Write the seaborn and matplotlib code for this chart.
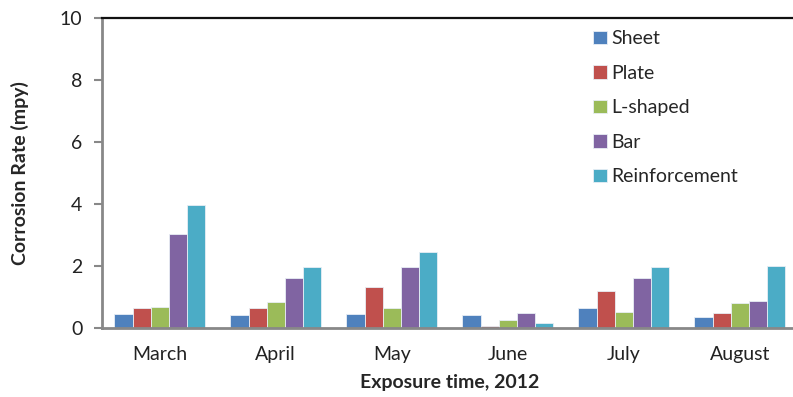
import numpy as np
import pandas as pd
import matplotlib
matplotlib.use("Agg")
import matplotlib.pyplot as plt
import seaborn as sns

months = ["March", "April", "May", "June", "July", "August"]
sheet = [0.43, 0.41, 0.43, 0.41, 0.64, 0.35]
plate = [0.64, 0.65, 1.31, 0.04, 1.19, 0.47]
l_shaped = [0.67, 0.84, 0.64, 0.25, 0.52, 0.80]
bar = [3.03, 1.59, 1.96, 0.46, 1.60, 0.87]
reinforcement = [3.95, 1.95, 2.44, 0.15, 1.96, 1.99]

series_names = ["Sheet", "Plate", "L-shaped", "Bar", "Reinforcement"]
series_values = [sheet, plate, l_shaped, bar, reinforcement]
colors = ["#4F81BD", "#C0504D", "#9BBB59", "#8064A2", "#4BACC6"]

df = pd.DataFrame(
    [(m, name, v) for name, vals in zip(series_names, series_values)
     for m, v in zip(months, vals)],
    columns=["month", "type", "rate"],
)

sns.set_theme(style="white")
plt.rcParams["font.family"] = ["Lato", "DejaVu Sans"]

FS = 14

fig = plt.figure(figsize=(7.93, 3.97), dpi=100)
ax = fig.add_axes([101.7 / 793, (397 - 327.7) / 397, 696 / 793, 309.7 / 397])

sns.barplot(data=df, x="month", y="rate", hue="type", order=months,
            hue_order=series_names, palette=colors, width=0.78,
            edgecolor="#e8eef5", linewidth=0.6, saturation=1, ax=ax)

ax.set_ylim(0, 10)
ax.set_xlim(-0.5, 5.5)
ax.set_yticks(np.arange(0, 11, 2))
ax.set_yticklabels([str(v) for v in range(0, 11, 2)], fontsize=FS, color="#222222")

# category labels centred, tick marks on the group boundaries
ax.set_xticks(np.arange(len(months)))
ax.set_xticklabels(months, fontsize=FS, color="#222222")
ax.tick_params(axis="x", which="major", length=0, pad=13)
ax.set_xticks(np.arange(-0.5, len(months), 1.0), minor=True)
ax.tick_params(axis="x", which="minor", length=6, width=1.5, color="#888888", direction="out")
ax.tick_params(axis="y", length=6, width=1.5, color="#888888", direction="out", left=True, pad=8)

for side in ["left", "bottom"]:
    ax.spines[side].set_color("#888888")
    ax.spines[side].set_linewidth(2)
ax.spines["right"].set_visible(False)
ax.spines["top"].set_color("#111111")
ax.spines["top"].set_linewidth(1.6)

ax.set_xlabel("Exposure time, 2012", fontsize=FS, fontweight="bold", labelpad=8)
ax.set_ylabel("Corrosion Rate (mpy)", fontsize=FS, fontweight="bold", labelpad=22)

ax.legend(loc="upper left", bbox_to_anchor=(0.695, 0.985), frameon=False,
          fontsize=FS, handlelength=0.7, handleheight=0.7, handletextpad=0.25,
          labelspacing=0.9, borderaxespad=0)

fig.savefig("out.png", dpi=100)
